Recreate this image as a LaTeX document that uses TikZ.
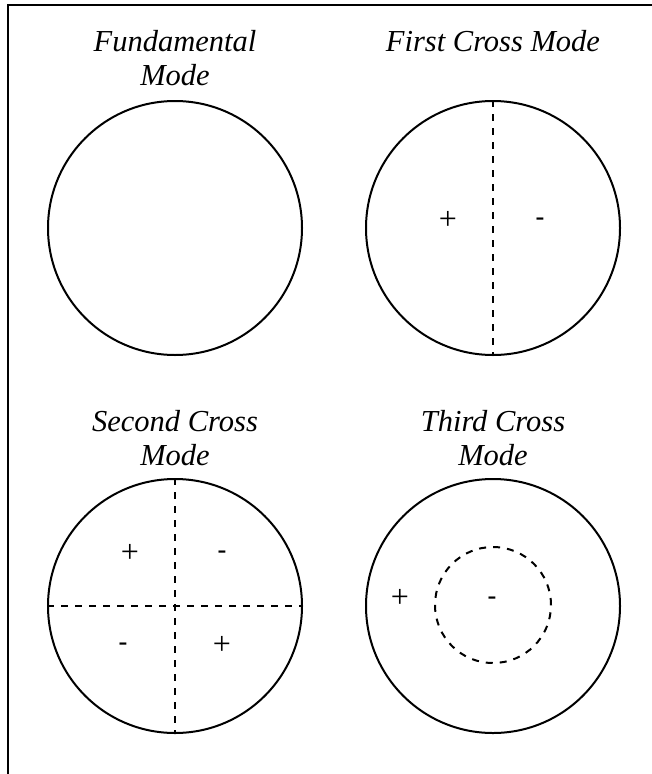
\documentclass[tikz,border=0pt]{standalone}
\usepackage{fontspec}
\setmainfont{Liberation Serif}
\newfontfamily\signsans{Liberation Sans}
\begin{document}
\begin{tikzpicture}[x=1pt,y=-1pt,
  modecircle/.style={circle,draw,line width=2pt,minimum size=254pt,inner sep=0pt},
  nodeline/.style={line width=2pt,dash pattern=on 7pt off 7pt},
  title/.style={anchor=base,align=center,font=\fontsize{30.5}{34}\selectfont\itshape,inner sep=0pt},
  plus/.style={font=\fontsize{32}{34}\selectfont,inner sep=0pt},
  minus/.style={font=\signsans\fontsize{28}{34}\selectfont,inner sep=0pt}]
\useasboundingbox (0,0) rectangle (651,774);
% frame (only top and left edges visible)
\coordinate (ftl) at (8,5);
\coordinate (ftr) at (660,5);
\coordinate (fbl) at (8,780);
\draw[line width=2pt] (fbl) -- (ftl) -- (ftr);
% titles (base anchor = baseline of last line)
\node[title] (t1) at (175,85) {Fundamental\\Mode};
\node[title] (t2) at (493,51) {First Cross Mode};
\node[title] (t3) at (175,465) {Second Cross\\Mode};
\node[title] (t4) at (493,465) {Third Cross\\Mode};
% circles
\node[modecircle] (c1) at (175,228) {};
\node[modecircle] (c2) at (493,228) {};
\node[modecircle] (c3) at (175,606) {};
\node[modecircle] (c4) at (493,606) {};
% first cross
\draw[nodeline] (c2.north) -- (c2.south);
\node[plus] (p21) at (448,220) {+};
\node[minus] (m21) at (540,222) {-};
% second cross
\draw[nodeline] (c3.north) -- (c3.south);
\draw[nodeline] (c3.west) -- (c3.east);
\node[plus] (p31) at (130,553) {+};
\node[minus] (m31) at (222,555) {-};
\node[minus] (m32) at (123,647) {-};
\node[plus] (p32) at (222,645) {+};
% third cross
\node[circle,draw,nodeline,minimum size=116pt,inner sep=0pt] (c4in) at (493,605) {};
\node[plus] (p41) at (400,598) {+};
\node[minus] (m41) at (492,601) {-};
\end{tikzpicture}
\end{document}
